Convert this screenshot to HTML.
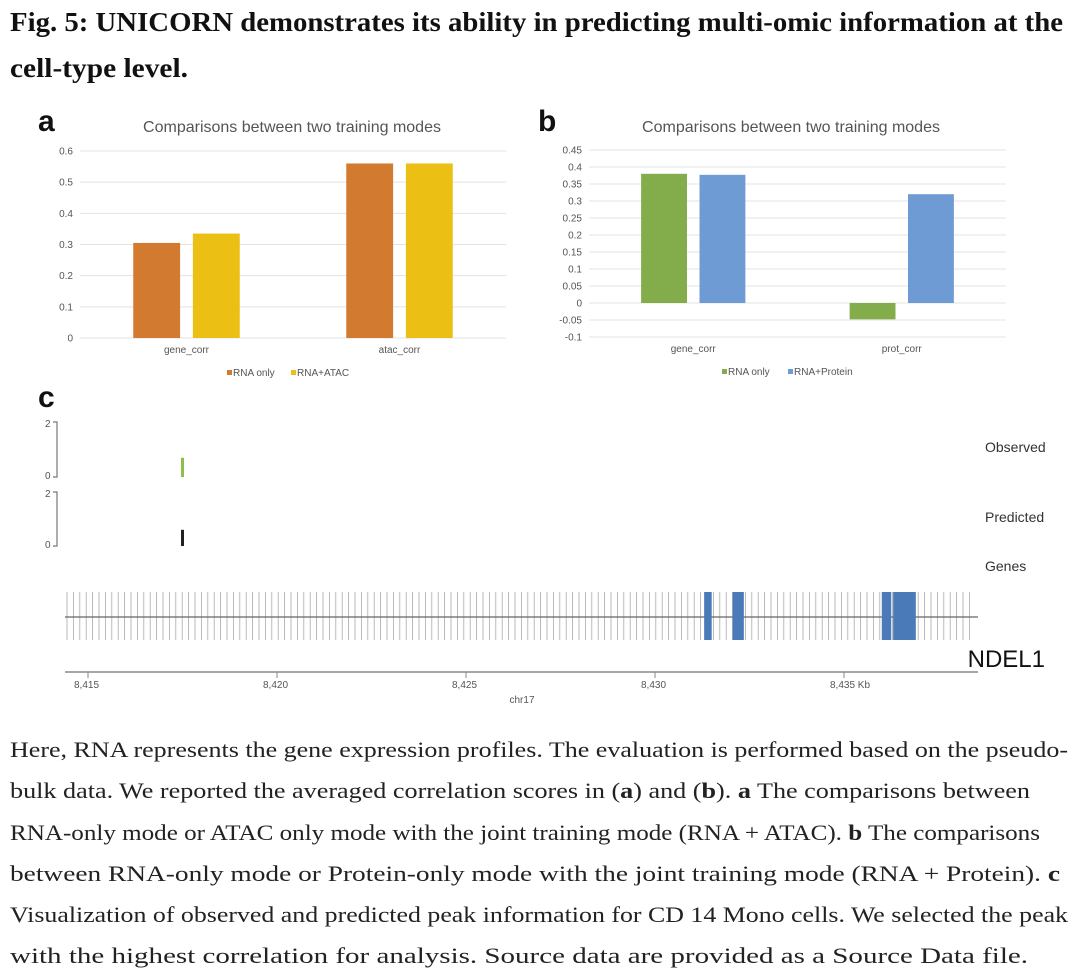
<!DOCTYPE html>
<html><head><meta charset="utf-8"><style>
html,body{margin:0;padding:0;background:#fff;}
svg{display:block;}
.cap{font-family:"Liberation Serif",serif;font-size:22px;fill:#222;}
.ttl{font-family:"Liberation Serif",serif;font-size:27px;font-weight:bold;fill:#111;}
.ax{font-family:"Liberation Sans",sans-serif;font-size:10px;fill:#555;}
.ct{font-family:"Liberation Sans",sans-serif;font-size:16px;fill:#555;}
.pl{font-family:"Liberation Sans",sans-serif;font-size:30px;font-weight:bold;fill:#111;}
.tl{font-family:"Liberation Sans",sans-serif;font-size:14px;fill:#333;}
</style></head><body>
<svg id="fig" width="1080" height="975" viewBox="0 0 1080 975" xmlns="http://www.w3.org/2000/svg">
<text class="ttl" x="10" y="31" textLength="1053" lengthAdjust="spacingAndGlyphs">Fig. 5: UNICORN demonstrates its ability in predicting multi-omic information at the</text>
<text class="ttl" x="10" y="77" textLength="178" lengthAdjust="spacingAndGlyphs">cell-type level.</text>

<text class="pl" x="38" y="131">a</text>
<text class="ct" x="292" y="132" text-anchor="middle">Comparisons between two training modes</text>
<g id="chartA"></g>

<text class="pl" x="538" y="131">b</text>
<text class="ct" x="791" y="132" text-anchor="middle">Comparisons between two training modes</text>
<g id="chartB"></g>

<text class="pl" x="38" y="407">c</text>
<g id="track"></g>

<g>
<text class="cap" x="10" y="757" textLength="1058" lengthAdjust="spacingAndGlyphs">Here, RNA represents the gene expression profiles. The evaluation is performed based on the pseudo-</text>
<text class="cap" x="10" y="798" textLength="1020" lengthAdjust="spacingAndGlyphs">bulk data. We reported the averaged correlation scores in (<tspan font-weight="bold">a</tspan>) and (<tspan font-weight="bold">b</tspan>). <tspan font-weight="bold">a</tspan> The comparisons between</text>
<text class="cap" x="10" y="840" textLength="1030" lengthAdjust="spacingAndGlyphs">RNA-only mode or ATAC only mode with the joint training mode (RNA + ATAC). <tspan font-weight="bold">b</tspan> The comparisons</text>
<text class="cap" x="10" y="881" textLength="1050" lengthAdjust="spacingAndGlyphs">between RNA-only mode or Protein-only mode with the joint training mode (RNA + Protein). <tspan font-weight="bold">c</tspan></text>
<text class="cap" x="10" y="922" textLength="1058" lengthAdjust="spacingAndGlyphs">Visualization of observed and predicted peak information for CD 14 Mono cells. We selected the peak</text>
<text class="cap" x="10" y="963" textLength="1018" lengthAdjust="spacingAndGlyphs">with the highest correlation for analysis. Source data are provided as a Source Data file.</text>
</g>
</svg>
<script>
const NS="http://www.w3.org/2000/svg";
const aCategories=["gene_corr","atac_corr"];
const aRnaOnly=[0.305,0.56];
const aRnaAtac=[0.335,0.56];
const aTicks=[0,0.1,0.2,0.3,0.4,0.5,0.6];
const aTickLabels=["0","0.1","0.2","0.3","0.4","0.5","0.6"];
const bCategories=["gene_corr","prot_corr"];
const bRnaOnly=[0.38,-0.048];
const bRnaProt=[0.377,0.32];
const bTicks=[-0.1,-0.05,0,0.05,0.1,0.15,0.2,0.25,0.3,0.35,0.4,0.45];
const bTickLabels=["-0.1","-0.05","0","0.05","0.1","0.15","0.2","0.25","0.3","0.35","0.4","0.45"];
const trackTicks=[8415,8420,8425,8430,8435];
const trackTickLabels=["8,415","8,420","8,425","8,430","8,435 Kb"];
const exons=[[8431.3,8431.5],[8432.05,8432.35],[8436.0,8436.25],[8436.3,8436.9]];
const observedPeak=[8417.5,0.7];
const predictedPeak=[8417.5,0.6];

function mk(tag,attrs,parent){const e=document.createElementNS(NS,tag);for(const k in attrs)e.setAttribute(k,attrs[k]);parent.appendChild(e);return e;}

function barChart(g,cfg){
  const y=v=>cfg.y0+(v-cfg.vmin)/(cfg.vmax-cfg.vmin)*(cfg.y1-cfg.y0);
  cfg.ticks.forEach((t,i)=>{
    const l=mk('line',{x1:cfg.x0,x2:cfg.x1,y1:y(t),y2:y(t),stroke:'#e3e3e3','stroke-width':1},g);
    
    
    const tx=mk('text',{x:cfg.x0-7,y:y(t)+3.5,'text-anchor':'end',class:'ax'},g);
    tx.textContent=cfg.tickLabels[i];
    
    
  });
  const n=cfg.cats.length, band=(cfg.x1-cfg.x0)/n, bw=band*0.22, gap=band*0.03;
  cfg.cats.forEach((c,i)=>{
    const cx=cfg.x0+band*(i+0.5);
    [[cfg.s1,cfg.c1,-1],[cfg.s2,cfg.c2,1]].forEach(([s,col,side],k)=>{
      const v=s[i], x=side<0?cx-gap-bw:cx+gap;
      const r=mk('rect',{x:x,y:Math.min(y(v),y(0)),width:bw,height:Math.abs(y(v)-y(0)),fill:col},g);
      
      
    });
    const t=mk('text',{x:cx,y:cfg.catY,'text-anchor':'middle',class:'ax'},g);
    t.textContent=c;
    
    
  });
  const lx=cfg.legX;
  [[cfg.c1,cfg.l1,cfg.n1],[cfg.c2,cfg.l2,cfg.n2]].forEach(([col,lab,nm],k)=>{
    const lg=mk('g',{},g);
    
    
    const x=lx+k*cfg.legGap;
    mk('rect',{x:x,y:cfg.legY-6,width:5,height:5,fill:col},lg);
    const t=mk('text',{x:x+6,y:cfg.legY,class:'ax'},lg);t.textContent=lab;
  });
}
barChart(document.getElementById('chartA'),{x0:80,x1:506,y0:338,y1:151,vmin:0,vmax:0.6,ticks:aTicks,tickLabels:aTickLabels,cats:aCategories,s1:aRnaOnly,s2:aRnaAtac,c1:'#d37a31',c2:'#ebbf14',n1:'rna-only',n2:'rna-atac',l1:'RNA only',l2:'RNA+ATAC',catY:353,legX:227,legY:376,legGap:64});
barChart(document.getElementById('chartB'),{x0:589,x1:1006,y0:337,y1:150,vmin:-0.1,vmax:0.45,ticks:bTicks,tickLabels:bTickLabels,cats:bCategories,s1:bRnaOnly,s2:bRnaProt,c1:'#83ac4a',c2:'#6f9bd4',n1:'rna-only',n2:'rna-protein',l1:'RNA only',l2:'RNA+Protein',catY:352,legX:722,legY:375,legGap:66});

// genome track
const tg=document.getElementById('track');
const gx=kb=>88+(kb-8415)*37.8;
function scaleTrack(top,bot,name){
  const g=mk('g',{},tg);
  
  
  mk('path',{d:`M53 ${top} H57 V${bot} H53`,stroke:'#777',fill:'none','stroke-width':1.2},g);
  const a=mk('text',{x:45,y:top+5,class:'ax'},g);a.textContent='2';
  const b=mk('text',{x:45,y:bot+2,class:'ax'},g);b.textContent='0';
  return v=>bot-v/2*(bot-top);
}
const oy=scaleTrack(422,477,'observed');
const py=scaleTrack(492,546,'predicted');
let r=mk('rect',{x:gx(observedPeak[0])-1.5,y:oy(observedPeak[1]),width:3,height:oy(0)-oy(observedPeak[1]),fill:'#8cc04a'},tg);


r=mk('rect',{x:gx(predictedPeak[0])-1.5,y:py(predictedPeak[1]),width:3,height:py(0)-py(predictedPeak[1]),fill:'#222'},tg);


[['Observed',452],['Predicted',522],['Genes',571]].forEach(([t,y])=>{
  const e=mk('text',{x:985,y:y,class:'tl'},tg);e.textContent=t;
  
  
});
const gg=mk('g',{},tg);


let p='';for(let x=67;x<=975;x+=6.4){p+=`M${x.toFixed(1)} 592 V640 `;}
mk('path',{d:p,stroke:'#aaa','stroke-width':0.8},gg);
mk('line',{x1:65,x2:978,y1:617,y2:617,stroke:'#666','stroke-width':1.2},gg);
exons.forEach(e=>{
  const ex=mk('rect',{x:gx(e[0]),y:592,width:gx(e[1])-gx(e[0]),height:48,fill:'#4a7ab8'},gg);
  
  
});
let t=mk('text',{x:1045,y:667,'text-anchor':'end','font-family':'Liberation Sans, sans-serif','font-size':24,fill:'#111'},tg);
t.textContent='NDEL1';


const axg=mk('g',{},tg);


mk('line',{x1:65,x2:978,y1:672,y2:672,stroke:'#888','stroke-width':1.5},axg);
trackTicks.forEach((k,i)=>{
  mk('line',{x1:gx(k),x2:gx(k),y1:672,y2:678,stroke:'#888'},axg);
  const l=mk('text',{x:gx(k)-14,y:688,class:'ax','font-size':9},axg);
  l.textContent=trackTickLabels[i];
});
t=mk('text',{x:522,y:703,'text-anchor':'middle',class:'ax','font-size':9},axg);t.textContent='chr17';
</script>
</body></html>
